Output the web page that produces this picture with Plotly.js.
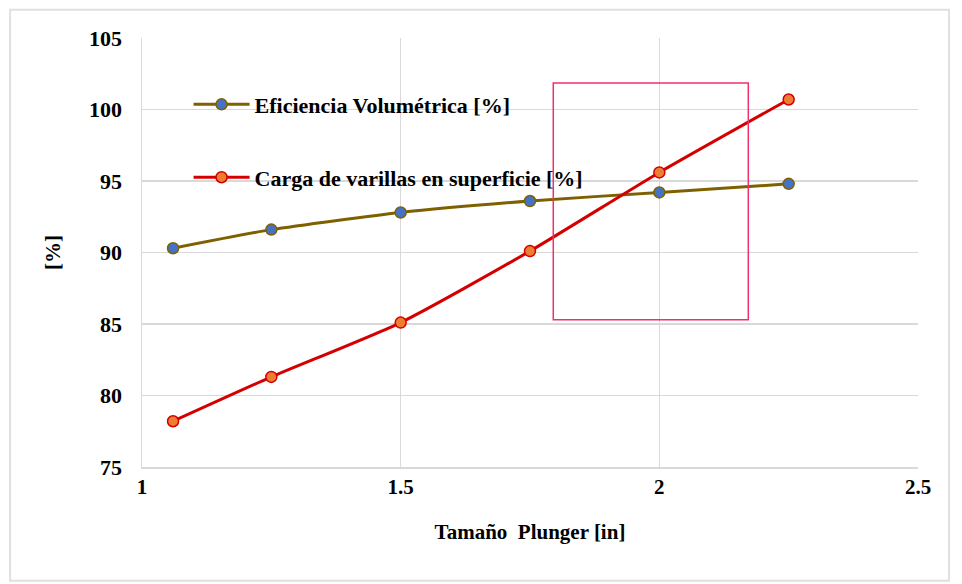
<!DOCTYPE html>
<html><head><meta charset="utf-8">
<script src="https://cdn.plot.ly/plotly-3.0.1.min.js"></script>
<style>body{margin:0;background:#fff}#c{width:962px;height:584px}</style>
</head><body><div id="c"></div>
<script>
const plungerSize = [1.06, 1.25, 1.5, 1.75, 2.0, 2.25];
const eficiencia = [90.3, 91.6, 92.8, 93.6, 94.2, 94.8];
const carga = [78.2, 81.3, 85.1, 90.1, 95.6, 100.7];
const xTicks = [1, 1.5, 2, 2.5];
const yTicks = [75, 80, 85, 90, 95, 100, 105];
const names = ['Eficiencia Volumétrica [%]', 'Carga de varillas en superficie [%]'];
const highlight = {x0: 1.795, x1: 2.172, y0: 85.3, y1: 101.85};

const fam = 'Liberation Serif, Times New Roman, serif';
const font = {family: fam, color: '#000', size: 18};
const traces = [
  {x: plungerSize, y: eficiencia, name: names[0], mode: 'lines+markers', legend: 'legend',
   line: {color: '#7f6000', width: 3, shape: 'spline', smoothing: 0.6},
   marker: {color: '#4472c4', size: 11, line: {color: '#7f6000', width: 1.5}}},
  {x: plungerSize, y: carga, name: names[1], mode: 'lines+markers', legend: 'legend2',
   line: {color: '#d40000', width: 3, shape: 'spline', smoothing: 0.6},
   marker: {color: '#ed7d31', size: 11, line: {color: '#d40000', width: 1.5}}}
];
const legendBase = {bgcolor: 'rgba(0,0,0,0)', borderwidth: 0, xanchor: 'left', yanchor: 'middle',
  font: {family: fam, size: 22, color: '#000', weight: 'bold'}, itemwidth: 56};
const layout = {
  width: 962, height: 584,
  margin: {l: 142, r: 44, t: 38, b: 117},
  paper_bgcolor: '#fff', plot_bgcolor: '#fff',
  font: font,
  showlegend: true,
  xaxis: {range: [1, 2.5], tickvals: xTicks, ticktext: xTicks.map(String),
    showgrid: true, gridcolor: '#d9d9d9', gridwidth: 1.5, zeroline: false,
    showline: true, linecolor: '#d9d9d9', linewidth: 1.5, ticks: '',
    tickfont: {family: fam, size: 21, weight: 'bold'},
    title: {text: 'Tamaño  Plunger [in]', font: {family: fam, size: 21, weight: 'bold'}, standoff: 26}},
  yaxis: {range: [75, 105], tickvals: yTicks, showgrid: true, gridcolor: '#d9d9d9', gridwidth: 1.5,
    zeroline: false, showline: true, linecolor: '#d9d9d9', linewidth: 1.5, ticks: '',
    ticklabelstandoff: 14,
    tickfont: {family: fam, size: 22, weight: 'bold'},
    title: {text: '[%]', font: {family: fam, size: 21, weight: 'bold'}, standoff: 22}},
  legend: Object.assign({x: 0.06, y: 0.845}, legendBase),
  legend2: Object.assign({x: 0.06, y: 0.675}, legendBase),
  shapes: [
    {type: 'rect', xref: 'x', yref: 'y', x0: highlight.x0, x1: highlight.x1, y0: highlight.y0, y1: highlight.y1,
     line: {color: '#f0306a', width: 1.5}, fillcolor: 'rgba(0,0,0,0)'},
    {type: 'rect', xref: 'paper', yref: 'paper', x0: -0.17, x1: 1.04, y0: -0.265, y1: 1.066,
     line: {color: '#e0e0e0', width: 2}, layer: 'below'}
  ]
};
Plotly.newPlot('c', traces, layout, {displayModeBar: false, staticPlot: true});
</script></body></html>
